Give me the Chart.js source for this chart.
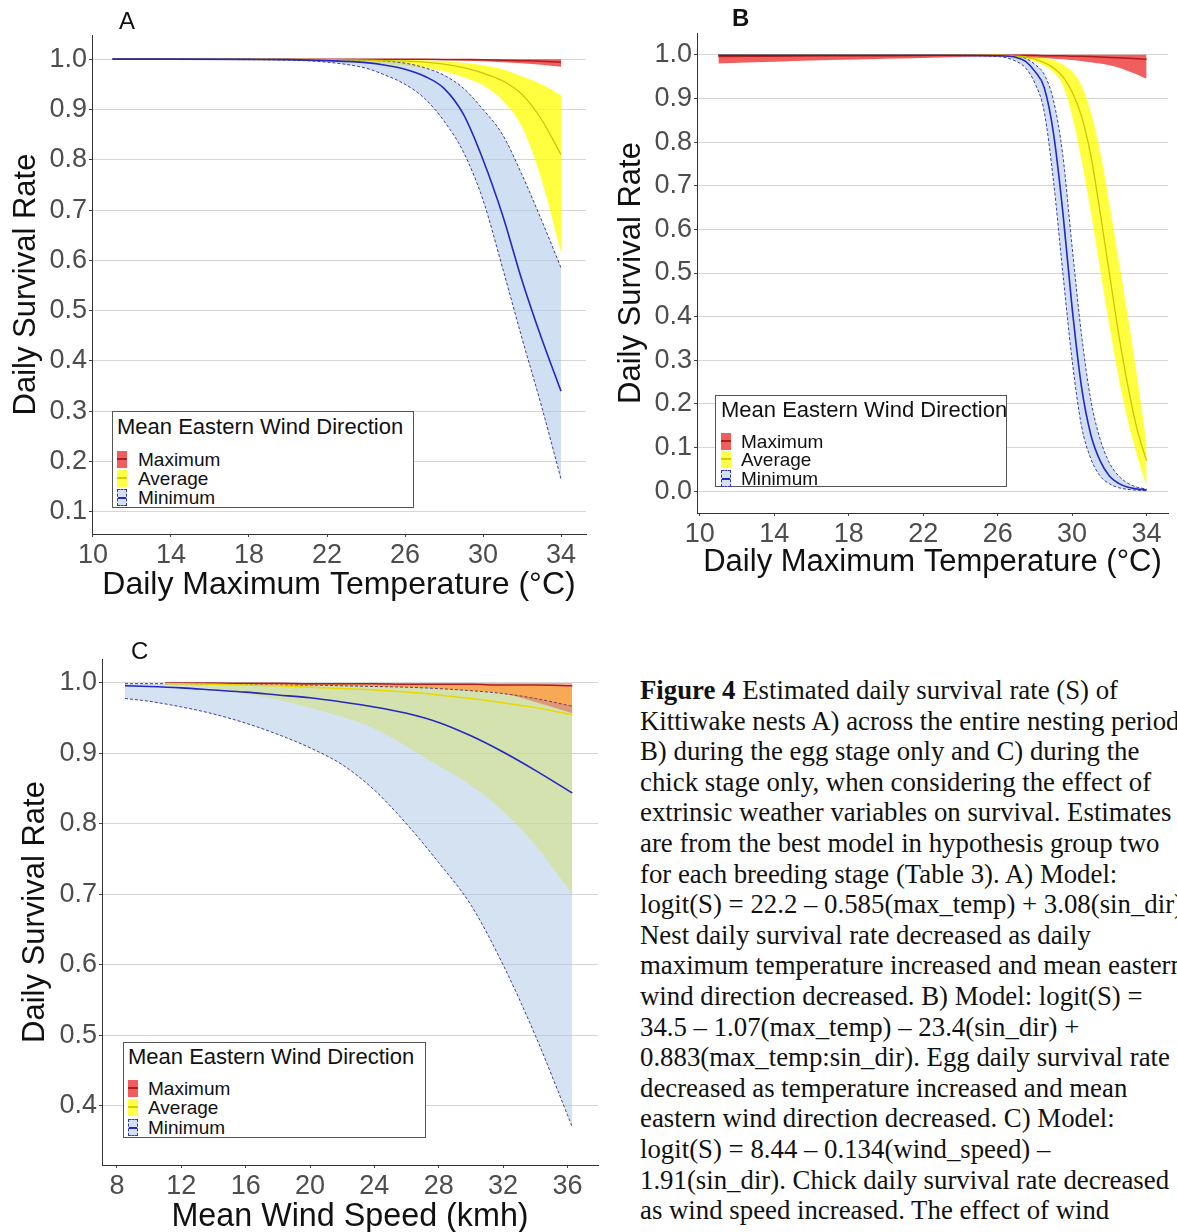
<!DOCTYPE html>
<html>
<head>
<meta charset="utf-8">
<script src="https://cdn.jsdelivr.net/npm/chart.js@4.4.1/dist/chart.umd.min.js"></script>
<style>
  html, body { margin: 0; padding: 0; background: #fff; }
  #page { position: relative; width: 1177px; height: 1232px; overflow: hidden; font-family: "Liberation Sans", Arial, sans-serif; }
  canvas { position: absolute; }
  .tag { position: absolute; font-size: 24px; line-height: 1; color: #111; }
  .legend { position: absolute; background: #fff; border: 1px solid #555; box-sizing: border-box; }
  .legend .ttl { position: absolute; font-size: 22px; line-height: 1; color: #111; white-space: nowrap; }
  .legend .lab { position: absolute; font-size: 19px; line-height: 1; color: #111; white-space: nowrap; }
  .legend .key { position: absolute; width: 10px; height: 17px; box-sizing: border-box; }
  .legend .key i { position: absolute; left: 0; right: 0; top: 7px; height: 2px; }
  #caption { position: absolute; left: 640px; top: 675px; font-family: "Liberation Serif", "Times New Roman", serif; font-size: 26.8px; line-height: 30.6px; color: #111; white-space: nowrap; }
</style>
</head>
<body>
<div id="page">
  <canvas id="chartA" width="600" height="610" style="left:0;top:0"></canvas>
  <canvas id="chartB" width="577" height="600" style="left:600px;top:0"></canvas>
  <canvas id="chartC" width="610" height="606" style="left:0;top:630px"></canvas>
  <div class="tag" style="left:119px;top:9px">A</div>
  <div class="tag" style="left:732px;top:6px;font-weight:bold">B</div>
  <div class="tag" style="left:131px;top:639px">C</div>
  <div class="legend" id="legA"></div>
  <div class="legend" id="legB"></div>
  <div class="legend" id="legC"></div>
  <div id="caption"></div>
</div>
<script>
// axis ticks
const tempTicks = [10, 14, 18, 22, 26, 30, 34];
const windTicks = [8, 12, 16, 20, 24, 28, 32, 36];
const yTicksA = [0.1, 0.2, 0.3, 0.4, 0.5, 0.6, 0.7, 0.8, 0.9, 1.0];
const yTicksB = [0.0, 0.1, 0.2, 0.3, 0.4, 0.5, 0.6, 0.7, 0.8, 0.9, 1.0];
const yTicksC = [0.4, 0.5, 0.6, 0.7, 0.8, 0.9, 1.0];
const groups = ['Maximum', 'Average', 'Minimum'];

// A) whole nesting period vs daily max temperature
const tempA = [11, 14, 18, 20, 22, 24, 25, 26, 27, 28, 29, 30, 31, 32, 33, 34];
const aMaxMean = [1, 1, 1, 1, 1, 1, 1, 0.9998, 0.9997, 0.9995, 0.9992, 0.999, 0.998, 0.997, 0.996, 0.994];
const aMaxHi = [1, 1, 1, 1, 1, 1, 1, 1, 1, 1, 1, 1, 1, 1, 1, 1];
const aMaxLo = [1, 1, 1, 1, 0.9998, 0.9995, 0.9993, 0.999, 0.9985, 0.998, 0.997, 0.996, 0.994, 0.992, 0.989, 0.985];
const aAvgMean = [1, 1, 1, 0.9995, 0.999, 0.998, 0.997, 0.996, 0.994, 0.99, 0.983, 0.972, 0.957, 0.93, 0.88, 0.81];
const aAvgHi = [1, 1, 1, 1, 1, 0.9995, 0.999, 0.999, 0.998, 0.996, 0.993, 0.988, 0.98, 0.966, 0.95, 0.928];
const aAvgLo = [1, 1, 0.9995, 0.998, 0.996, 0.993, 0.99, 0.987, 0.983, 0.976, 0.964, 0.948, 0.918, 0.865, 0.76, 0.615];
const aMinMean = [1, 1, 0.9995, 0.999, 0.997, 0.993, 0.988, 0.98, 0.966, 0.942, 0.89, 0.8, 0.69, 0.56, 0.445, 0.34];
const aMinHi = [1, 1, 1, 0.9995, 0.999, 0.998, 0.996, 0.992, 0.983, 0.968, 0.942, 0.9, 0.85, 0.77, 0.68, 0.585];
const aMinLo = [1, 0.9995, 0.999, 0.998, 0.994, 0.982, 0.968, 0.95, 0.922, 0.877, 0.815, 0.72, 0.585, 0.445, 0.31, 0.165];

// B) egg stage vs daily max temperature
const tempB = [11, 14, 17, 20, 23, 26, 27, 27.5, 28, 28.5, 29, 29.5, 30, 30.5, 31, 31.5, 32, 32.5, 33, 33.5, 34];
const bMaxMean = [0.996, 0.997, 0.998, 0.998, 0.999, 0.999, 0.999, 0.999, 0.999, 0.998, 0.998, 0.998, 0.997, 0.997, 0.996, 0.995, 0.994, 0.993, 0.992, 0.991, 0.99];
const bMaxHi = [1, 1, 1, 1, 1, 1, 1, 1, 1, 1, 1, 1, 1, 1, 1, 1, 1, 1, 1, 1, 1];
const bMaxLo = [0.98, 0.984, 0.988, 0.991, 0.994, 0.996, 0.996, 0.995, 0.994, 0.993, 0.991, 0.99, 0.988, 0.986, 0.983, 0.98, 0.976, 0.971, 0.963, 0.955, 0.945];
const bAvgMean = [1, 1, 1, 1, 1, 0.999, 0.997, 0.995, 0.99, 0.982, 0.97, 0.95, 0.915, 0.86, 0.77, 0.64, 0.5, 0.36, 0.24, 0.14, 0.07];
const bAvgHi = [1, 1, 1, 1, 1, 1, 0.999, 0.998, 0.996, 0.993, 0.988, 0.978, 0.962, 0.93, 0.87, 0.78, 0.66, 0.53, 0.4, 0.26, 0.11];
const bAvgLo = [1, 1, 1, 1, 0.9995, 0.998, 0.995, 0.99, 0.985, 0.975, 0.96, 0.93, 0.86, 0.76, 0.64, 0.51, 0.38, 0.26, 0.16, 0.08, 0.01];
const bMinMean = [0.999, 0.999, 0.999, 0.999, 0.999, 0.998, 0.994, 0.985, 0.962, 0.925, 0.82, 0.64, 0.42, 0.24, 0.13, 0.07, 0.035, 0.018, 0.009, 0.005, 0.003];
const bMinHi = [1, 1, 1, 1, 1, 0.999, 0.997, 0.992, 0.978, 0.955, 0.895, 0.77, 0.56, 0.36, 0.21, 0.12, 0.065, 0.035, 0.018, 0.009, 0.005];
const bMinLo = [0.998, 0.998, 0.998, 0.998, 0.998, 0.996, 0.985, 0.97, 0.935, 0.87, 0.71, 0.5, 0.3, 0.15, 0.075, 0.035, 0.017, 0.008, 0.004, 0.002, 0.001];

// C) chick stage vs mean wind speed
const windMin = [8.5, 10, 12, 14, 16, 18, 20, 22, 24, 26, 28, 30, 32, 34, 36.3];
const cMinMean = [0.996, 0.995, 0.993, 0.99, 0.987, 0.983, 0.979, 0.973, 0.966, 0.957, 0.944, 0.925, 0.902, 0.876, 0.844];
const cMinHi = [0.999, 0.999, 0.999, 0.998, 0.998, 0.997, 0.997, 0.996, 0.995, 0.994, 0.992, 0.989, 0.985, 0.978, 0.967];
const cMinLo = [0.978, 0.974, 0.966, 0.956, 0.943, 0.927, 0.908, 0.884, 0.848, 0.8, 0.745, 0.685, 0.6, 0.5, 0.37];
const windAvgMax = [11, 12, 14, 16, 18, 20, 22, 24, 26, 28, 30, 32, 34, 36.3];
const cAvgMean = [0.999, 0.999, 0.998, 0.997, 0.996, 0.994, 0.992, 0.99, 0.987, 0.983, 0.978, 0.972, 0.965, 0.955];
const cAvgHi = [1, 1, 1, 0.9995, 0.9995, 0.999, 0.999, 0.999, 0.998, 0.998, 0.997, 0.997, 0.996, 0.995];
const cAvgLo = [0.997, 0.996, 0.992, 0.985, 0.976, 0.965, 0.952, 0.935, 0.91, 0.882, 0.855, 0.818, 0.77, 0.7];
const cMaxMean = [1, 1, 1, 0.9995, 0.9995, 0.999, 0.999, 0.999, 0.998, 0.998, 0.998, 0.997, 0.997, 0.996];
const cMaxHi = [1, 1, 1, 1, 1, 1, 1, 1, 1, 1, 1, 1, 1, 1];
const cMaxLo = [0.9995, 0.999, 0.999, 0.998, 0.997, 0.997, 0.996, 0.995, 0.994, 0.992, 0.989, 0.985, 0.973, 0.957];

const captionLines = [
  '<b>Figure 4</b> Estimated daily survival rate (S) of',
  'Kittiwake nests A) across the entire nesting period',
  'B) during the egg stage only and C) during the',
  'chick stage only, when considering the effect of',
  'extrinsic weather variables on survival. Estimates',
  'are from the best model in hypothesis group two',
  'for each breeding stage (Table 3). A) Model:',
  'logit(S) = 22.2 \u2013 0.585(max_temp) + 3.08(sin_dir)',
  'Nest daily survival rate decreased as daily',
  'maximum temperature increased and mean eastern',
  'wind direction decreased. B) Model: logit(S) =',
  '34.5 \u2013 1.07(max_temp) \u2013 23.4(sin_dir) +',
  '0.883(max_temp:sin_dir). Egg daily survival rate',
  'decreased as temperature increased and mean',
  'eastern wind direction decreased. C) Model:',
  'logit(S) = 8.44 \u2013 0.134(wind_speed) \u2013',
  '1.91(sin_dir). Chick daily survival rate decreased',
  'as wind speed increased. The effect of wind'
];

const FONT = '"Liberation Sans", Arial, sans-serif';
Chart.defaults.font.family = FONT;

const BLUE_LINE = '#2626c0';
const BLUE_EDGE = '#2b2b8c';
const RED_LINE = '#b01c1c';

function pts(xs, ys) {
  return xs.map((x, i) => ({ x: x, y: ys[i] }));
}

// ribbon = lower bound + upper bound filled down to it
function band(xs, lo, hi, fillColor, edgeColor, order) {
  const edge = edgeColor
    ? { borderColor: edgeColor, borderWidth: 0.9, borderDash: [3, 2] }
    : { borderColor: 'rgba(0,0,0,0)', borderWidth: 0 };
  return [
    Object.assign({ data: pts(xs, lo), fill: false, order: order }, edge),
    Object.assign({ data: pts(xs, hi), fill: '-1', backgroundColor: fillColor, order: order }, edge)
  ];
}

function line(xs, ys, color, width) {
  return { data: pts(xs, ys), borderColor: color, borderWidth: width, fill: false, order: 0 };
}

function makeChart(id, sets, sc) {
  return new Chart(document.getElementById(id), {
    type: 'line',
    data: { datasets: sets },
    options: {
      responsive: false,
      animation: false,
      events: [],
      layout: { padding: { top: sc.padTop, right: sc.padRight, left: 0, bottom: 0 } },
      elements: {
        point: { radius: 0, hoverRadius: 0 },
        line: { cubicInterpolationMode: 'monotone' }
      },
      plugins: { legend: { display: false }, tooltip: { enabled: false } },
      scales: {
        x: {
          type: 'linear', min: sc.xMin, max: sc.xMax,
          afterBuildTicks: s => { s.ticks = sc.xTicks.map(v => ({ value: v })); },
          afterFit: s => { s.height = sc.xHeight; },
          grid: { drawOnChartArea: false, tickLength: 3, tickColor: '#444' },
          border: { color: '#333', width: 1 },
          ticks: { font: { size: 27 }, color: '#4d4d4d', padding: 2, maxRotation: 0, autoSkip: false, callback: v => String(v) },
          title: { display: true, text: sc.xTitle, font: { size: sc.xTitleSize }, color: '#111', padding: { top: 0, bottom: sc.xTitlePad } }
        },
        y: {
          type: 'linear', min: sc.yMin, max: sc.yMax,
          afterBuildTicks: s => { s.ticks = sc.yTicks.map(v => ({ value: v })); },
          afterFit: s => { s.width = sc.yWidth; },
          grid: { color: '#d6d6d6', lineWidth: 1, tickLength: 3, tickColor: '#444' },
          border: { color: '#333', width: 1 },
          ticks: { font: { size: 27 }, color: '#4d4d4d', padding: 2, autoSkip: false, callback: v => v.toFixed(1) },
          title: { display: true, text: 'Daily Survival Rate', font: { size: 31 }, color: '#111', padding: { top: sc.yTitlePad, bottom: 0 } }
        }
      }
    }
  });
}

// panels A and B use the stronger ribbon colours
const strong = { red: 'rgba(235,40,40,0.75)', yellow: 'rgba(255,255,0,0.75)', blue: 'rgba(170,198,232,0.55)' };
const soft = { red: 'rgba(235,40,30,0.4)', yellow: 'rgba(255,255,0,0.52)', blue: 'rgba(169,197,229,0.5)' };

makeChart('chartA', [
  line(tempA, aMinMean, BLUE_LINE, 1.6),
  line(tempA, aAvgMean, '#cfc400', 1.3),
  line(tempA, aMaxMean, RED_LINE, 1.5),
  ...band(tempA, aMaxLo, aMaxHi, strong.red, null, 3),
  ...band(tempA, aMinLo, aMinHi, strong.blue, BLUE_EDGE, 4),
  ...band(tempA, aAvgLo, aAvgHi, strong.yellow, null, 5)
], {
  xMin: 9.95, xMax: 35.28, yMin: 0.056, yMax: 1.048, xTicks: tempTicks, yTicks: yTicksA,
  padTop: 35, padRight: 14, yWidth: 92, xHeight: 76, xTitlePad: 6, yTitlePad: 8,
  xTitle: 'Daily Maximum Temperature (\u00B0C)', xTitleSize: 32
});

makeChart('chartB', [
  line(tempB, bMinMean, BLUE_LINE, 1.6),
  line(tempB, bAvgMean, '#cfc400', 1.3),
  line(tempB, bMaxMean, RED_LINE, 1.5),
  ...band(tempB, bMaxLo, bMaxHi, strong.red, null, 3),
  ...band(tempB, bMinLo, bMinHi, strong.blue, BLUE_EDGE, 4),
  ...band(tempB, bAvgLo, bAvgHi, strong.yellow, null, 5)
], {
  xMin: 9.85, xMax: 35.15, yMin: -0.05, yMax: 1.05, xTicks: tempTicks, yTicks: yTicksB,
  padTop: 33, padRight: 9, yWidth: 97, xHeight: 87, xTitlePad: 19, yTitlePad: 13,
  xTitle: 'Daily Maximum Temperature (\u00B0C)', xTitleSize: 31
});

makeChart('chartC', [
  line(windMin, cMinMean, BLUE_LINE, 1.6),
  line(windAvgMax, cAvgMean, '#e8d800', 1.5),
  line(windAvgMax, cMaxMean, RED_LINE, 1.5),
  ...band(windAvgMax, cMaxLo, cMaxHi, soft.red, null, 3),
  ...band(windMin, cMinLo, cMinHi, soft.blue, BLUE_EDGE, 4),
  ...band(windAvgMax, cAvgLo, cAvgHi, soft.yellow, null, 5)
], {
  xMin: 7.07, xMax: 37.9, yMin: 0.316, yMax: 1.034, xTicks: windTicks, yTicks: yTicksC,
  padTop: 29, padRight: 12, yWidth: 102, xHeight: 71, xTitlePad: 0, yTitlePad: 17,
  xTitle: 'Mean Wind Speed (kmh)', xTitleSize: 32.3
});

// ggplot-style legend boxes
const keyStyles = [
  { fill: '#ef5d5d', line: RED_LINE, dash: null },
  { fill: '#ffff45', line: '#d8cc00', dash: null },
  { fill: '#d3e1f3', line: BLUE_LINE, dash: '#3535b5' }
];

function legend(id, box) {
  const el = document.getElementById(id);
  el.style.left = box.left + 'px';
  el.style.top = box.top + 'px';
  el.style.width = box.w + 'px';
  el.style.height = box.h + 'px';
  let html = '<div class="ttl" style="left:' + box.titleLeft + 'px;top:' + (box.titleMid - 11) + 'px">Mean Eastern Wind Direction</div>';
  groups.forEach((g, i) => {
    const k = keyStyles[i];
    const mid = box.rowMid + i * box.rowGap;
    html += '<div class="key" style="left:' + box.keyLeft + 'px;top:' + (mid - 8.5) + 'px;background:' + k.fill +
      (k.dash ? ';border:1px dashed ' + k.dash : '') + '"><i style="background:' + k.line + '"></i></div>';
    html += '<div class="lab" style="left:' + box.labLeft + 'px;top:' + (mid - 9.5) + 'px">' + g + '</div>';
  });
  el.innerHTML = html;
}

legend('legA', { left: 112, top: 411, w: 302, h: 97, titleLeft: 4, titleMid: 15, rowMid: 47, rowGap: 19, keyLeft: 4, labLeft: 25 });
legend('legB', { left: 715, top: 395, w: 292, h: 92, titleLeft: 5, titleMid: 14, rowMid: 45, rowGap: 18.5, keyLeft: 5, labLeft: 25 });
legend('legC', { left: 123, top: 1042, w: 303, h: 96, titleLeft: 4, titleMid: 14, rowMid: 45, rowGap: 19.5, keyLeft: 4, labLeft: 24 });

document.getElementById('caption').innerHTML = captionLines.map(t => '<div>' + t + '</div>').join('');
</script>
</body>
</html>
